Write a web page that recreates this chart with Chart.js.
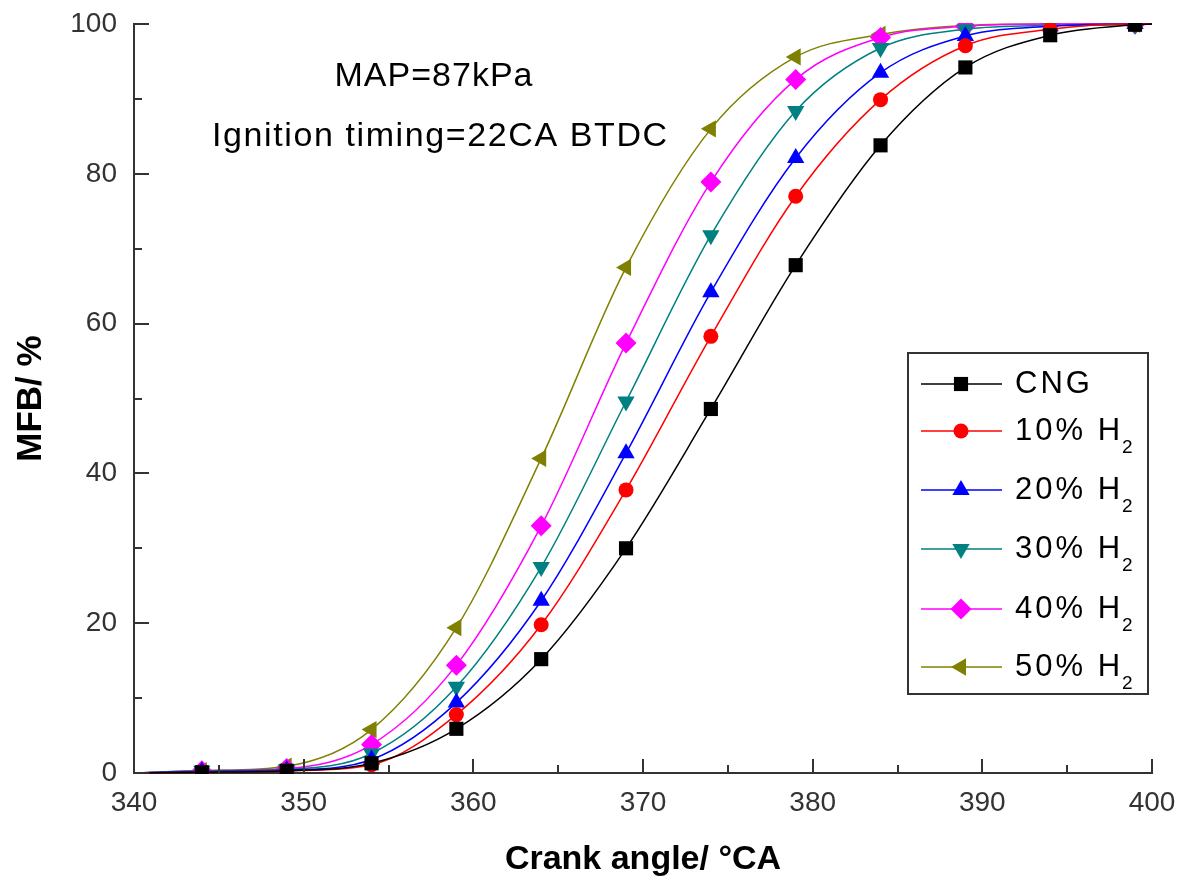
<!DOCTYPE html>
<html>
<head>
<meta charset="utf-8">
<script src="https://cdn.jsdelivr.net/npm/chart.js@4.4.1/dist/chart.umd.min.js"></script>
<style>
  html, body { margin: 0; padding: 0; background: #fff; }
  #wrap { width: 1178px; height: 880px; }
</style>
</head>
<body>
<div id="wrap"><canvas id="grafico"></canvas></div>
<script>
// crank angle (first/last points only carry the line to the axis ends)
const angulos = [340, 344, 349, 354, 359, 364, 369, 374, 379, 384, 389, 394, 399, 400];

const cng = [0, 0.1, 0.3, 1.3, 5.9, 15.2, 30.0, 48.6, 67.8, 83.8, 94.2, 98.5, 99.9, 100];
const h10 = [0, 0.1, 0.3, 1.1, 7.8, 19.8, 37.8, 58.3, 77.0, 89.9, 97.1, 99.3, 100, 100];
const h20 = [0, 0.2, 0.4, 1.8, 9.4, 23.0, 42.7, 64.2, 82.1, 93.5, 98.4, 99.7, 100, 100];
const h30 = [0, 0.3, 0.5, 2.6, 11.5, 27.5, 49.6, 71.8, 88.4, 96.8, 99.3, 99.8, 99.9, 100];
const h40 = [0, 0.3, 0.6, 3.8, 14.4, 33.0, 57.4, 78.9, 92.6, 98.2, 99.7, 100, 100, 100];
const h50 = [0, 0.3, 0.9, 5.8, 19.4, 42.0, 67.5, 86.0, 95.6, 98.6, 99.8, 100, 100, 100];

const nomes = ["CNG", "10% H2", "20% H2", "30% H2", "40% H2", "50% H2"];
const cores = ["#000000", "#FF0000", "#0000FF", "#008080", "#FF00FF", "#808000"];

const notas = ["MAP=87kPa", "Ignition timing=22CA BTDC"];

const FONTE = "'Liberation Sans', Arial, sans-serif";

// marker style per series
const marcadores = [
  { pointStyle: "rect", radius: 10, rotation: 0 },
  { pointStyle: "circle", radius: 7.5, rotation: 0 },
  { pointStyle: "triangle", radius: 10, rotation: 0 },
  { pointStyle: "triangle", radius: 10, rotation: 180 },
  { pointStyle: "rectRot", radius: 10.5, rotation: 0 },
  { pointStyle: "triangle", radius: 10, rotation: 270 }
];

const series = [cng, h10, h20, h30, h40, h50];

const datasets = series.map((valores, i) => ({
  label: nomes[i],
  data: angulos.map((a, j) => ({ x: a, y: valores[j] })),
  borderColor: cores[i],
  backgroundColor: cores[i],
  borderWidth: 1.5,
  pointStyle: marcadores[i].pointStyle,
  rotation: marcadores[i].rotation,
  pointBorderWidth: 0,
  pointRadius: (ctx) =>
    ctx.dataIndex === 0 || ctx.dataIndex === angulos.length - 1
      ? 0
      : marcadores[i].radius,
  cubicInterpolationMode: "monotone",
  clip: 1
}));

// inward major + minor ticks
const ticksInternos = {
  id: "ticksInternos",
  afterDraw(chart) {
    const { ctx, chartArea, scales } = chart;
    ctx.save();
    ctx.strokeStyle = "#333";
    ctx.lineWidth = 2;
    ctx.beginPath();
    for (let v = 340; v <= 400; v += 5) {
      const x = Math.round(scales.x.getPixelForValue(v));
      const len = v % 10 === 0 ? 14 : 8;
      ctx.moveTo(x, chartArea.bottom);
      ctx.lineTo(x, chartArea.bottom - len);
    }
    for (let v = 0; v <= 100; v += 10) {
      const y = Math.round(scales.y.getPixelForValue(v));
      const len = v % 20 === 0 ? 15 : 8;
      ctx.moveTo(chartArea.left, y);
      ctx.lineTo(chartArea.left + len, y);
    }
    ctx.stroke();
    ctx.restore();
  }
};

// text notes + boxed legend with subscript
const legendaCaixa = {
  id: "legendaCaixa",
  afterDraw(chart) {
    const ctx = chart.ctx;
    ctx.save();
    ctx.fillStyle = "#000";
    ctx.textBaseline = "middle";
    ctx.font = "34px " + FONTE;
    ctx.letterSpacing = "1px";
    ctx.textAlign = "center";
    ctx.fillText(notas[0], 434, 77);
    ctx.textAlign = "left";
    ctx.letterSpacing = "1.6px";
    ctx.fillText(notas[1], 212, 137);

    // box
    ctx.letterSpacing = "0px";
    ctx.strokeStyle = "#333";
    ctx.lineWidth = 2;
    ctx.strokeRect(908, 353, 240, 341);

    const linhas = [384, 431, 490, 549, 609, 667];
    nomes.forEach((nome, i) => {
      const y = linhas[i];
      ctx.strokeStyle = cores[i];
      ctx.lineWidth = 1.5;
      ctx.beginPath();
      ctx.moveTo(921, y);
      ctx.lineTo(1002, y);
      ctx.stroke();
      ctx.fillStyle = cores[i];
      Chart.helpers.drawPoint(
        ctx,
        {
          pointStyle: marcadores[i].pointStyle,
          radius: marcadores[i].radius,
          rotation: marcadores[i].rotation,
          borderWidth: 0
        },
        961,
        y
      );
      ctx.fillStyle = "#000";
      ctx.font = "31px " + FONTE;
      ctx.letterSpacing = "3px";
      ctx.textAlign = "left";
      if (nome.endsWith("H2")) {
        const base = nome.slice(0, -1);
        ctx.fillText(base, 1015, y);
        const w = ctx.measureText(base).width;
        ctx.font = "19px " + FONTE;
        ctx.letterSpacing = "0px";
        ctx.fillText("2", 1015 + w - 1, y + 17);
      } else {
        ctx.fillText(nome, 1015, y);
      }
    });
    ctx.restore();
  }
};

new Chart(document.getElementById("grafico"), {
  type: "line",
  data: { datasets },
  options: {
    responsive: true,
    maintainAspectRatio: false,
    animation: false,
    layout: { padding: { left: 0, right: 26, top: 24, bottom: 0 } },
    plugins: { legend: { display: false }, tooltip: { enabled: false } },
    scales: {
      x: {
        type: "linear",
        min: 340,
        max: 400,
        afterFit: (s) => {
          s.height = 107;
          s.paddingLeft = 0;
          s.paddingRight = 0;
        },
        grid: { display: false, drawTicks: false },
        border: { display: true, color: "#333", width: 2 },
        ticks: {
          stepSize: 10,
          padding: 13,
          color: "#333",
          font: { family: FONTE, size: 28 }
        },
        title: {
          display: true,
          text: "Crank angle/ °CA",
          color: "#000",
          font: { family: FONTE, size: 34, weight: "bold" },
          padding: { top: 0, bottom: 0 }
        }
      },
      y: {
        min: 0,
        max: 100,
        afterFit: (s) => {
          s.width = 134;
          s.paddingTop = 0;
          s.paddingBottom = 0;
        },
        grid: { display: false, drawTicks: false },
        border: { display: true, color: "#333", width: 2 },
        ticks: {
          stepSize: 20,
          padding: 17,
          color: "#333",
          font: { family: FONTE, size: 28 }
        },
        title: {
          display: true,
          text: "MFB/ %",
          color: "#000",
          font: { family: FONTE, size: 35, weight: "bold" },
          padding: { top: 10, bottom: 0 }
        }
      }
    }
  },
  plugins: [ticksInternos, legendaCaixa]
});
</script>
</body>
</html>
